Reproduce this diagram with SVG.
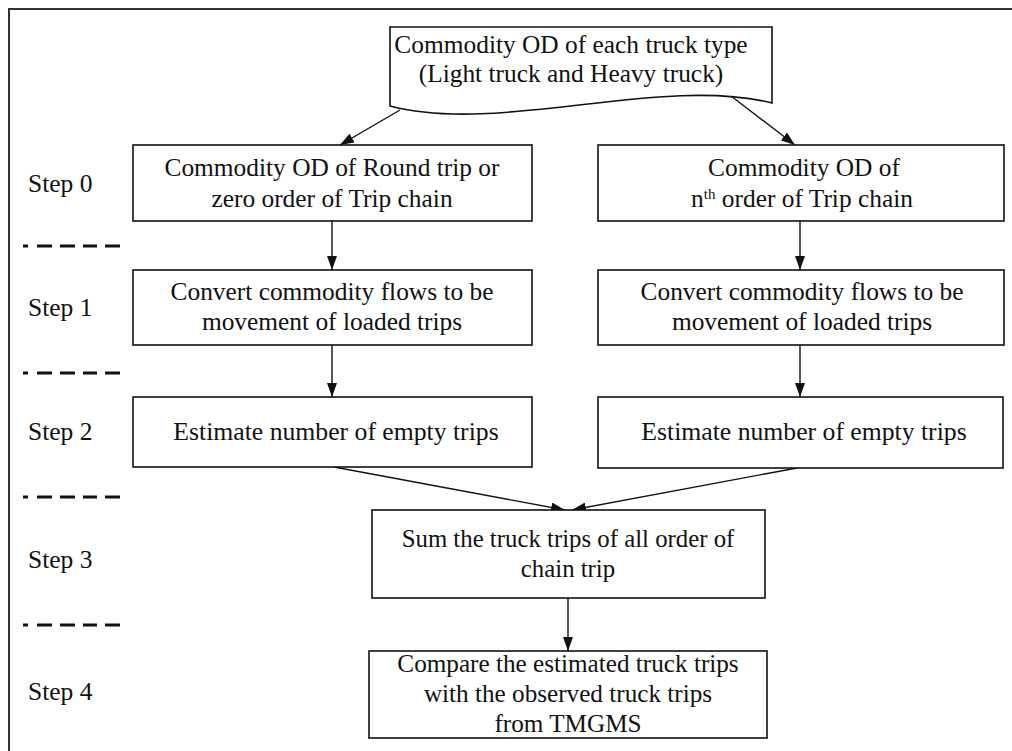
<svg xmlns="http://www.w3.org/2000/svg" width="1012" height="751" viewBox="0 0 1012 751">
<style>
.box{fill:#fff;stroke:#111;stroke-width:1.6}
.t{font-family:"Liberation Serif","Times New Roman",serif;fill:#111;text-anchor:middle;font-size:25.4px}
.s{font-family:"Liberation Serif","Times New Roman",serif;font-size:25.5px;fill:#111}
.dash{stroke:#111;stroke-width:3;stroke-dasharray:5 9 15 8 15 8 14 8 15 20}
.c{stroke:#111;stroke-width:1.4;fill:none}
.frame{stroke:#333;stroke-width:2;fill:none}
</style>
<defs>
<marker id="ah" markerWidth="14" markerHeight="10" refX="14" refY="5" viewBox="0 0 14 10" orient="auto" markerUnits="userSpaceOnUse">
<path d="M0,0 L14,5 L0,10 Z" fill="#111"/>
</marker>
</defs>
<rect width="1012" height="751" fill="#fff"/>
<path class="frame" d="M9,751 V9 H1012"/>

<g id="steps">
<line class="dash" x1="23" y1="246" x2="120" y2="246"/>
<line class="dash" x1="23" y1="373" x2="120" y2="373"/>
<line class="dash" x1="23" y1="497" x2="120" y2="497"/>
<line class="dash" x1="23" y1="625" x2="120" y2="625"/>
<text class="s" x="28" y="192">Step 0</text>
<text class="s" x="28" y="316">Step 1</text>
<text class="s" x="28" y="440">Step 2</text>
<text class="s" x="28" y="568">Step 3</text>
<text class="s" x="28" y="700">Step 4</text>
</g>

<g id="connectors">
<line class="c" x1="400" y1="110" x2="340" y2="145" marker-end="url(#ah)"/>
<line class="c" x1="731" y1="96" x2="795" y2="145" marker-end="url(#ah)"/>
<line class="c" x1="332" y1="221" x2="332" y2="270" marker-end="url(#ah)"/>
<line class="c" x1="800" y1="221" x2="800" y2="270" marker-end="url(#ah)"/>
<line class="c" x1="332" y1="345" x2="332" y2="397" marker-end="url(#ah)"/>
<line class="c" x1="800" y1="345" x2="800" y2="397" marker-end="url(#ah)"/>
<line class="c" x1="334" y1="467" x2="565" y2="510" marker-end="url(#ah)"/>
<line class="c" x1="797" y1="468" x2="572" y2="510" marker-end="url(#ah)"/>
<line class="c" x1="568" y1="598" x2="568" y2="651" marker-end="url(#ah)"/>
</g>

<g id="n_top">
<path class="box" d="M390,27 H772 V103 C660,75 500,135 390,106 Z"/>
<text class="t" x="571" y="53">Commodity OD of each truck type</text>
<text class="t" x="571" y="82">(Light truck and Heavy truck)</text>
</g>

<g id="n_s0_left">
<rect class="box" x="133" y="145" width="399" height="76"/>
<text class="t" x="332" y="176">Commodity OD of Round trip or</text>
<text class="t" x="332" y="207">zero order of Trip chain</text>
</g>
<g id="n_s0_right">
<rect class="box" x="598" y="145" width="406" height="76"/>
<text class="t" x="804" y="176">Commodity OD of</text>
<text class="t" x="802" y="207">n<tspan style="font-size:15px" baseline-shift="super">th</tspan> order of Trip chain</text>
</g>

<g id="n_s1_left">
<rect class="box" x="133" y="270" width="399" height="75"/>
<text class="t" x="332" y="300">Convert commodity flows to be</text>
<text class="t" x="332" y="330">movement of loaded trips</text>
</g>
<g id="n_s1_right">
<rect class="box" x="598" y="270" width="406" height="75"/>
<text class="t" x="802" y="300">Convert commodity flows to be</text>
<text class="t" x="802" y="330">movement of loaded trips</text>
</g>

<g id="n_s2_left">
<rect class="box" x="133" y="397" width="399" height="70"/>
<text class="t" x="336" y="440" style="font-size:25.7px">Estimate number of empty trips</text>
</g>
<g id="n_s2_right">
<rect class="box" x="598" y="397" width="405" height="71"/>
<text class="t" x="804" y="440" style="font-size:25.7px">Estimate number of empty trips</text>
</g>

<g id="n_s3">
<rect class="box" x="372" y="510" width="393" height="88"/>
<text class="t" x="568" y="547" style="font-size:24.8px">Sum the truck trips of all order of</text>
<text class="t" x="568" y="577" style="font-size:24.8px">chain trip</text>
</g>

<g id="n_s4">
<rect class="box" x="369" y="651" width="398" height="87"/>
<text class="t" x="568" y="672" style="font-size:25.2px">Compare the estimated truck trips</text>
<text class="t" x="568" y="702" style="font-size:25.2px">with the observed truck trips</text>
<text class="t" x="568" y="732" style="font-size:25.2px">from TMGMS</text>
</g>
</svg>
